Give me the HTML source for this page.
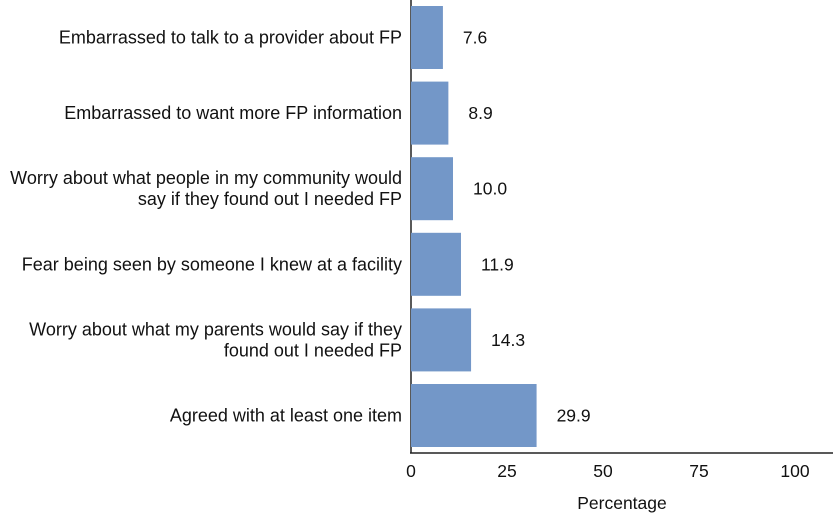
<!DOCTYPE html>
<html><head><meta charset="utf-8"><style>
html,body{margin:0;padding:0;background:#fff;}
svg{display:block;font-family:"Liberation Sans",Arial,sans-serif;}
</style></head><body>
<svg id="chart" width="833" height="514">
<line x1="411" y1="0" x2="411" y2="453" stroke="#222" stroke-width="1.5"/>
<line x1="410" y1="453" x2="833" y2="453" stroke="#222" stroke-width="1.5"/>
<text x="622" y="509" font-size="17.5" text-anchor="middle" fill="#111">Percentage</text>
</svg>
<script>
const categories = [
  ["Embarrassed to talk to a provider about FP"],
  ["Embarrassed to want more FP information"],
  ["Worry about what people in my community would","say if they found out I needed FP"],
  ["Fear being seen by someone I knew at a facility"],
  ["Worry about what my parents would say if they","found out I needed FP"],
  ["Agreed with at least one item"]
];
const values = [7.6, 8.9, 10.0, 11.9, 14.3, 29.9];
const valueLabels = ["7.6", "8.9", "10.0", "11.9", "14.3", "29.9"];
const ticks = [0, 25, 50, 75, 100];
const tickLabels = ["0", "25", "50", "75", "100"];

const svg = document.getElementById('chart');
const NS = 'http://www.w3.org/2000/svg';
const x0 = 411;
function xBar(v){ return x0 + v * 4.2; }
function xTick(v){ return x0 + v * 3.84; }
const pitch = 75.6, top0 = 6, barH = 63;
function yBand(i){ return top0 + i * pitch; }

values.forEach((v, i) => {
  const r = document.createElementNS(NS, 'rect');
  r.setAttribute('x', x0);
  r.setAttribute('y', yBand(i));
  r.setAttribute('width', xBar(v) - x0);
  r.setAttribute('height', barH);
  r.setAttribute('fill', '#7397c8');
  
  
  svg.appendChild(r);

  const t = document.createElementNS(NS, 'text');
  t.setAttribute('x', xBar(v) + 20);
  t.setAttribute('y', yBand(i) + barH / 2 + 6);
  t.setAttribute('font-size', '17.5');
  t.setAttribute('fill', '#111');
  t.textContent = valueLabels[i];
  
  
  svg.appendChild(t);

  const lines = categories[i];
  const cy = yBand(i) + barH / 2;
  lines.forEach((ln, j) => {
    const c = document.createElementNS(NS, 'text');
    c.setAttribute('x', 402);
    c.setAttribute('y', cy + 6 + (j - (lines.length - 1) / 2) * 21);
    c.setAttribute('font-size', '18');
    c.setAttribute('text-anchor', 'end');
    c.setAttribute('fill', '#111');
    c.textContent = ln;
    
    
    svg.appendChild(c);
  });
});

ticks.forEach((tv, i) => {
  const t = document.createElementNS(NS, 'text');
  t.setAttribute('x', xTick(tv));
  t.setAttribute('y', 477);
  t.setAttribute('font-size', '17.5');
  t.setAttribute('text-anchor', 'middle');
  t.setAttribute('fill', '#111');
  t.textContent = tickLabels[i];
  
  
  svg.appendChild(t);
});
</script>
</body></html>
